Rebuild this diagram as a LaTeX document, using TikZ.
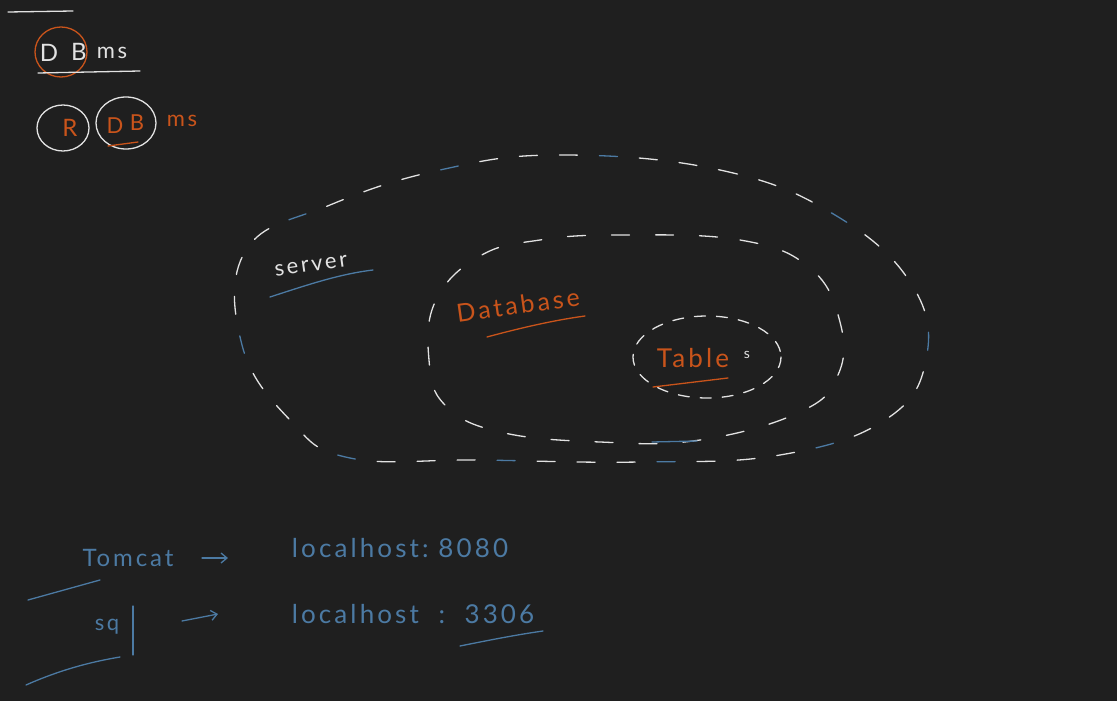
\documentclass[tikz,border=0pt]{standalone}
\usepackage{fontspec}
\setmainfont{Lato}
\newfontfamily\hand[LetterSpace=12]{Lato}
\usetikzlibrary{arrows.meta}
\definecolor{bg}{HTML}{1F1F1F}
\definecolor{chalk}{HTML}{E2E2E2}
\definecolor{ink}{HTML}{4C7AA3}
\definecolor{rust}{HTML}{C9541B}
\tikzset{
  txt/.style={inner sep=0pt, font=\hand},
  wtxt/.style={txt, text=chalk},
  btxt/.style={txt, text=ink},
  otxt/.style={txt, text=rust},
  stroke/.style={line width=1.3pt, line cap=round},
  wdash/.style={stroke, chalk, dash pattern=on 18pt off 22pt on 18pt off 22pt on 18pt off 62pt},
  bdash/.style={stroke, ink, dash pattern=on 18pt off 142pt, dash phase=40pt},
  ddash/.style={stroke, chalk, dash pattern=on 18pt off 26pt},
  tdash/.style={stroke, chalk, dash pattern=on 11pt off 11pt},
}
\begin{document}
\begin{tikzpicture}[x=1pt,y=-1pt]
\fill[bg] (0,0) rectangle (1117,701);
\useasboundingbox (0,0) rectangle (1117,701);

% top line
\coordinate (t1) at (8,12); \coordinate (t2) at (73,11);
\draw[stroke, chalk] (t1) -- (t2);

% DBms
\node[wtxt, font=\hand\fontsize{24}{24}\selectfont] (d1) at (49,53) {D};
\node[wtxt, font=\hand\fontsize{24}{24}\selectfont] (b1) at (79,52) {B};
\node[wtxt, font=\hand\fontsize{22}{22}\selectfont] (m1) at (112,53) {ms};
\draw[stroke, rust] (61,52) ellipse [x radius=26, y radius=25];
\coordinate (u1a) at (38,73); \coordinate (u1b) at (140,71);
\draw[stroke, chalk] (u1a) -- (u1b);

% RDBms
\node[otxt, font=\hand\fontsize{24}{24}\selectfont] (r2) at (70,128) {R};
\draw[stroke, chalk] (63,128) ellipse [x radius=26, y radius=23];
\node[otxt, font=\hand\fontsize{22}{22}\selectfont] (d2) at (115,126) {D};
\node[otxt, font=\hand\fontsize{22}{22}\selectfont] (b2) at (137,123) {B};
\node[otxt, font=\hand\fontsize{22}{22}\selectfont] (m2) at (182,121) {ms};
\draw[stroke, chalk] (126,123) ellipse [x radius=30, y radius=26];
\coordinate (u2a) at (108,146); \coordinate (u2b) at (138,142);
\draw[stroke, rust] (u2a) -- (u2b);

% server blob
\def\serverpath{plot[smooth cycle, tension=0.7] coordinates {(560,155) (720,170) (835,215) (912,285) (926,360) (885,420) (780,455) (640,462) (480,460) (350,458) (290,420) (242,345) (246,250) (330,205) (440,170)}}
\draw[wdash] \serverpath;
\draw[bdash] \serverpath;
\node[wtxt, font=\hand\fontsize{22}{22}\selectfont, rotate=8] (srv) at (311,266) {server};
\draw[stroke, ink] (270,297) .. controls (310,284) and (340,274) .. (373,270);

% database blob
\draw[ddash] plot[smooth cycle, tension=0.7] coordinates {(620,235) (740,240) (810,268) (840,322) (838,375) (800,412) (700,440) (600,442) (500,432) (445,405) (429,360) (436,300) (480,256) (540,240)};
\coordinate (db1) at (652,442); \coordinate (db2) at (697,441);
\draw[stroke, ink] (db1) -- (db2);
\node[otxt, font=\hand\fontsize{25}{25}\selectfont, rotate=8] (dbt) at (518,305) {Database};
\draw[stroke, rust] (487,337) .. controls (520,328) and (555,320) .. (585,316);

% tables
\draw[tdash] (707,357) ellipse [x radius=74, y radius=41];
\node[otxt, font=\hand\fontsize{26}{26}\selectfont] (tbl) at (693,358) {Table};
\node[wtxt, font=\hand\fontsize{14}{14}\selectfont] (tbs) at (747,355) {s};
\draw[stroke, rust] (653,387) -- (728,378);

% bottom notes
\node[btxt, font=\hand\fontsize{24}{24}\selectfont] (tom) at (128,558) {Tomcat};
\coordinate (a1s) at (202,558); \coordinate (a1e) at (228,558);
\draw[stroke, ink, -{Straight Barb[length=6pt,width=10pt]}] (a1s) -- (a1e);
\node[btxt, font=\hand\fontsize{26}{26}\selectfont] (lh1) at (400,548) {localhost:\ 8080};
\coordinate (ut1) at (28,600); \coordinate (ut2) at (100,580);
\draw[stroke, ink] (ut1) -- (ut2);

\node[btxt, font=\hand\fontsize{22}{22}\selectfont] (sq) at (107,627) {sq};
\coordinate (l1) at (133,606); \coordinate (l2) at (133,655);
\draw[stroke, ink] (l1) -- (l2);
\coordinate (a2s) at (182,621); \coordinate (a2e) at (218,614);
\draw[stroke, ink, -{Straight Barb[length=6pt,width=10pt]}] (a2s) -- (a2e);
\node[btxt, font=\hand\fontsize{26}{26}\selectfont] (lh2) at (413,614) {localhost\ \ :\ \ 3306};
\draw[stroke, ink] (460,646) .. controls (490,640) and (515,635) .. (543,631);
\draw[stroke, ink] (26,685) .. controls (60,670) and (90,662) .. (120,657);
\end{tikzpicture}
\end{document}
